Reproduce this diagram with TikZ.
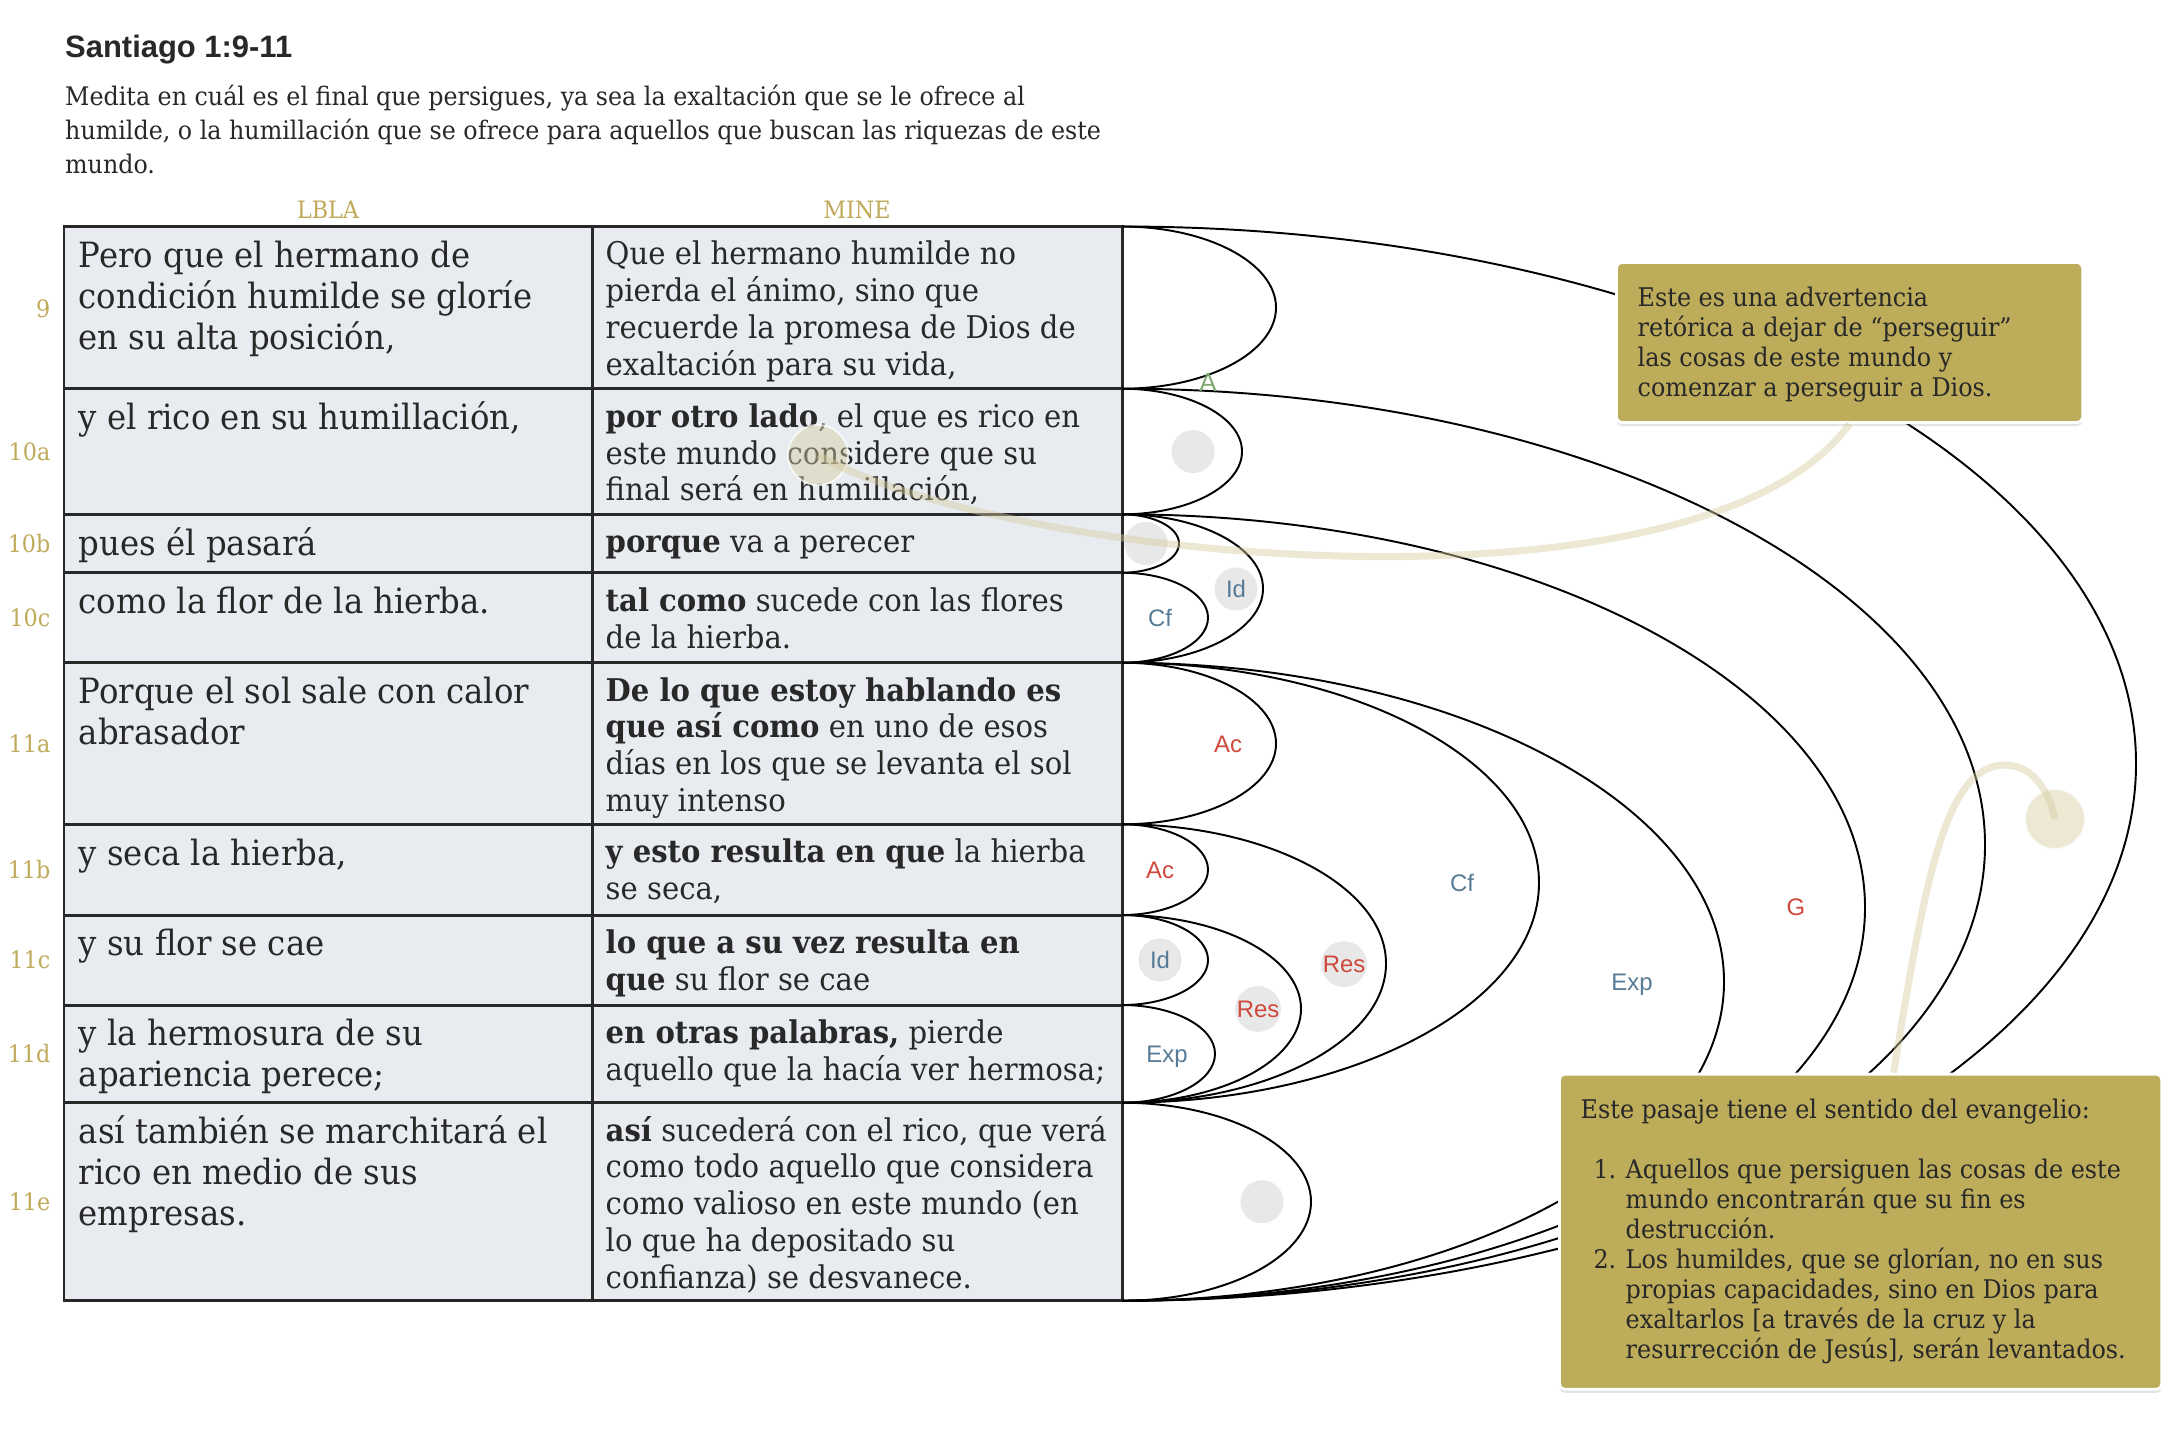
\documentclass[tikz,border=0pt]{standalone}
\usepackage{fontspec}
\setmainfont{DejaVu Serif}[FakeStretch=0.93]
\newfontfamily\sansfont{Liberation Sans}
\usetikzlibrary{shadows}
\definecolor{ink}{RGB}{40,40,40}
\definecolor{cellbg}{RGB}{232,236,240}
\definecolor{gold}{RGB}{191,170,90}
\definecolor{boxgold}{RGB}{189,172,90}
\definecolor{relred}{RGB}{207,72,60}
\definecolor{relblue}{RGB}{86,123,150}
\definecolor{relgreen}{RGB}{128,168,112}
\definecolor{dotgrey}{RGB}{232,232,232}
\definecolor{trail}{RGB}{214,204,160}
\begin{document}
\begin{tikzpicture}[x=0.01cm, y=-0.01cm,
  lbla/.style={anchor=base west, inner sep=0pt, align=left, text=ink, font=\fontsize{9.9}{11.67}\selectfont},
  mine/.style={anchor=base west, inner sep=0pt, align=left, text=ink, font=\fontsize{8.9}{10.47}\selectfont},
  verse/.style={anchor=east, inner sep=0pt, text=gold, font=\fontsize{6.8}{8}\selectfont},
  rel/.style={inner sep=0pt, text height=4.9pt, text depth=0pt, font=\sansfont\fontsize{6.8}{8}\selectfont},
  dot/.style={circle, fill=dotgrey, minimum size=0.43cm, inner sep=0pt},
  link/.style={line width=0.55pt},
  note/.style={anchor=north west, fill=boxgold, draw=white, line width=0.8pt, rounded corners=1.5pt,
    drop shadow={opacity=0.22, shadow xshift=0pt, shadow yshift=-1pt}},
  notetext/.style={anchor=base west, inner sep=0pt, align=left, text=ink, font=\fontsize{7.3}{8.54}\selectfont},
  trailline/.style={draw=trail, line width=2pt, opacity=0.45},
  spot/.style={circle, fill=trail, fill opacity=0.45, draw=white, draw opacity=0.7, line width=0.6pt, minimum size=0.6cm, inner sep=0pt}]
  % lienzo de 2176 x 1450 px, 1 px = 0.01 cm, eje y hacia abajo
  % los textos de varias lineas se anclan en la linea base de su ultima linea
  \fill[white] (0,0) rectangle (2176,1450);
  \useasboundingbox (0,0) rectangle (2176,1450);

  \node[anchor=base west, inner sep=0pt, text=ink, font=\sansfont\bfseries\fontsize{8.8}{10}\selectfont] (title) at (64.5,57) {Santiago 1:9-11};
  \node[anchor=base west, inner sep=0pt, align=left, text=ink, font=\fontsize{7.27}{9.59}\selectfont] (intro) at (64.5,173.4)
    {Medita en cuál es el final que persigues, ya sea la exaltación que se le ofrece al\\humilde, o la humillación que se ofrece para aquellos que buscan las riquezas de este\\mundo.};
  \node[anchor=base, inner sep=0pt, text=gold, font=\fontsize{6.8}{8}\selectfont] (hlbla) at (328,218) {LBLA};
  \node[anchor=base, inner sep=0pt, text=gold, font=\fontsize{6.8}{8}\selectfont] (hmine) at (857,218) {MINE};

  % tabla
  \fill[cellbg] (64,226.5) rectangle (1122,1300.7);
  \draw[line width=0.85pt, ink] (64,226.5) rectangle (1122,1300.7) (592,226.5) -- (592,1300.7)
    (64,388.7) -- (1122,388.7) (64,514.3) -- (1122,514.3) (64,572.7) -- (1122,572.7)
    (64,662.7) -- (1122,662.7) (64,824.3) -- (1122,824.3) (64,915) -- (1122,915)
    (64,1005) -- (1122,1005) (64,1102.7) -- (1122,1102.7);

  \node[verse] (v9) at (51,309) {9};
  \node[verse] (v10a) at (51,451.5) {10a};
  \node[verse] (v10b) at (51,543.5) {10b};
  \node[verse] (v10c) at (51,617.7) {10c};
  \node[verse] (v11a) at (51,743.5) {11a};
  \node[verse] (v11b) at (51,869.7) {11b};
  \node[verse] (v11c) at (51,960) {11c};
  \node[verse] (v11d) at (51,1053.9) {11d};
  \node[verse] (v11e) at (51,1201.7) {11e};

  \node[lbla] (a9) at (78,349.3) {Pero que el hermano de\\condición humilde se gloríe\\en su alta posición,};
  \node[lbla] (a10a) at (78,429.5) {y el rico en su humillación,};
  \node[lbla] (a10b) at (78,555.1) {pues él pasará};
  \node[lbla] (a10c) at (78,613.5) {como la flor de la hierba.};
  \node[lbla] (a11a) at (78,744.5) {Porque el sol sale con calor\\abrasador};
  \node[lbla] (a11b) at (78,865.1) {y seca la hierba,};
  \node[lbla] (a11c) at (78,955.8) {y su flor se cae};
  \node[lbla] (a11d) at (78,1086.8) {y la hermosura de su\\apariencia perece;};
  \node[lbla] (a11e) at (78,1225.5) {así también se marchitará el\\rico en medio de sus\\empresas.};

  \node[mine] (b9) at (605,375.4) {Que el hermano humilde no\\pierda el ánimo, sino que\\recuerde la promesa de Dios de\\exaltación para su vida,};
  \node[mine] (b10a) at (605,500.8) {\textbf{por otro lado}, el que es rico en\\este mundo considere que su\\final será en humillación,};
  \node[mine] (b10b) at (605,552.8) {\textbf{porque} va a perecer};
  \node[mine] (b10c) at (605,648) {\textbf{tal como} sucede con las flores\\de la hierba.};
  \node[mine] (b11a) at (605,811.6) {\textbf{De lo que estoy hablando es}\\\textbf{que así como} en uno de esos\\días en los que se levanta el sol\\muy intenso};
  \node[mine] (b11b) at (605,899.6) {\textbf{y esto resulta en que} la hierba\\se seca,};
  \node[mine] (b11c) at (605,990.3) {\textbf{lo que a su vez resulta en}\\\textbf{que} su flor se cae};
  \node[mine] (b11d) at (605,1080.3) {\textbf{en otras palabras,} pierde\\aquello que la hacía ver hermosa;};
  \node[mine] (b11e) at (605,1288.4) {\textbf{así} sucederá con el rico, que verá\\como todo aquello que considera\\como valioso en este mundo (en\\lo que ha depositado su\\confianza) se desvanece.};

  % arcos
  \coordinate (r0) at (1122,226.5);
  \coordinate (r1) at (1122,388.7);
  \coordinate (r2) at (1122,514.3);
  \coordinate (r3) at (1122,572.7);
  \coordinate (r4) at (1122,662.7);
  \coordinate (r5) at (1122,824.3);
  \coordinate (r6) at (1122,915);
  \coordinate (r7) at (1122,1005);
  \coordinate (r8) at (1122,1102.7);
  \draw[link] (r0) arc[start angle=-90, end angle=90, x radius=154, y radius=81.1];
  \draw[link] (r1) arc[start angle=-90, end angle=90, x radius=120, y radius=62.8];
  \draw[link] (r2) arc[start angle=-90, end angle=90, x radius=57, y radius=29.2];
  \draw[link] (r3) arc[start angle=-90, end angle=90, x radius=86, y radius=45];
  \draw[link] (r2) arc[start angle=-90, end angle=90, x radius=141, y radius=74.2];
  \draw[link] (r4) arc[start angle=-90, end angle=90, x radius=154, y radius=80.8];
  \draw[link] (r5) arc[start angle=-90, end angle=90, x radius=86, y radius=45.35];
  \draw[link] (r6) arc[start angle=-90, end angle=90, x radius=86, y radius=45];
  \draw[link] (r7) arc[start angle=-90, end angle=90, x radius=93, y radius=48.85];
  \draw[link] (r6) arc[start angle=-90, end angle=90, x radius=179, y radius=93.85];
  \draw[link] (r5) arc[start angle=-90, end angle=90, x radius=264, y radius=139.2];
  \draw[link] (r4) arc[start angle=-90, end angle=90, x radius=417, y radius=220];
  \draw[link] (r8) arc[start angle=-90, end angle=90, x radius=189, y radius=99];
  \draw[link] (r4) arc[start angle=-90, end angle=90, x radius=602, y radius=319];
  \draw[link] (r2) arc[start angle=-90, end angle=90, x radius=743, y radius=393.2];
  \draw[link] (r1) arc[start angle=-90, end angle=90, x radius=863, y radius=456];
  \draw[link] (r0) arc[start angle=-90, end angle=90, x radius=1014, y radius=537.1];

  \node[rel, text=relgreen, text height=5.3pt, font=\sansfont\fontsize{7.4}{8}\selectfont] (lA) at (1208,382) {A};
  \node[dot] (d10a) at (1193,451.5) {};
  \node[dot] (d10b) at (1146,543.5) {};
  \node[rel, text=relblue] (l10c) at (1160,617.7) {Cf};
  \node[rel, dot, text=relblue] (l10bc) at (1236,589) {Id};
  \node[rel, text=relred] (l11a) at (1228,743.5) {Ac};
  \node[rel, text=relred] (l11b) at (1160,869.7) {Ac};
  \node[rel, dot, text=relblue] (l11c) at (1160,960) {Id};
  \node[rel, text=relblue] (l11d) at (1167,1054) {Exp};
  \node[rel, dot, text=relred] (l11cd) at (1258,1009) {Res};
  \node[rel, dot, text=relred] (l11bd) at (1344,964) {Res};
  \node[rel, text=relblue] (l11ad) at (1462,883) {Cf};
  \node[rel, text=relblue] (l11ae) at (1632,982) {Exp};
  \node[rel, text=relred] (l10be) at (1796,907) {G};
  \node[dot] (d11e) at (1262,1201.7) {};

  % notas
  \node[note, minimum width=4.66cm, minimum height=1.6cm] (warn) at (1615,261) {};
  \node[notetext] (warntext) at (1637,396.7) {Este es una advertencia\\retórica a dejar de “perseguir”\\las cosas de este mundo y\\comenzar a perseguir a Dios.};
  \node[note, minimum width=6.02cm, minimum height=3.15cm] (sense) at (1558,1072.7) {};
  \node[notetext] (sensehead) at (1580,1118.3) {Este pasaje tiene el sentido del evangelio:};
  \node[notetext, anchor=base east] (n1) at (1617,1178.3) {1.};
  \node[notetext] (item1) at (1625,1238.3) {Aquellos que persiguen las cosas de este\\mundo encontrarán que su fin es\\destrucción.};
  \node[notetext, anchor=base east] (n2) at (1617,1268.3) {2.};
  \node[notetext] (item2) at (1625,1358.3) {Los humildes, que se glorían, no en sus\\propias capacidades, sino en Dios para\\exaltarlos [a través de la cruz y la\\resurrección de Jesús], serán levantados.};

  \node[spot] (spot1) at (818,455) {};
  \node[spot] (spot2) at (2055,819) {};
  \draw[trailline] (warn.south) .. controls (1700,630) and (1000,560) .. (spot1.center);
  \draw[trailline] ([xshift=0.33cm]sense.north) .. controls (1925,880) and (1945,765) .. (2005,765)
    .. controls (2035,765) and (2050,795) .. (spot2.center);
\end{tikzpicture}
\end{document}
